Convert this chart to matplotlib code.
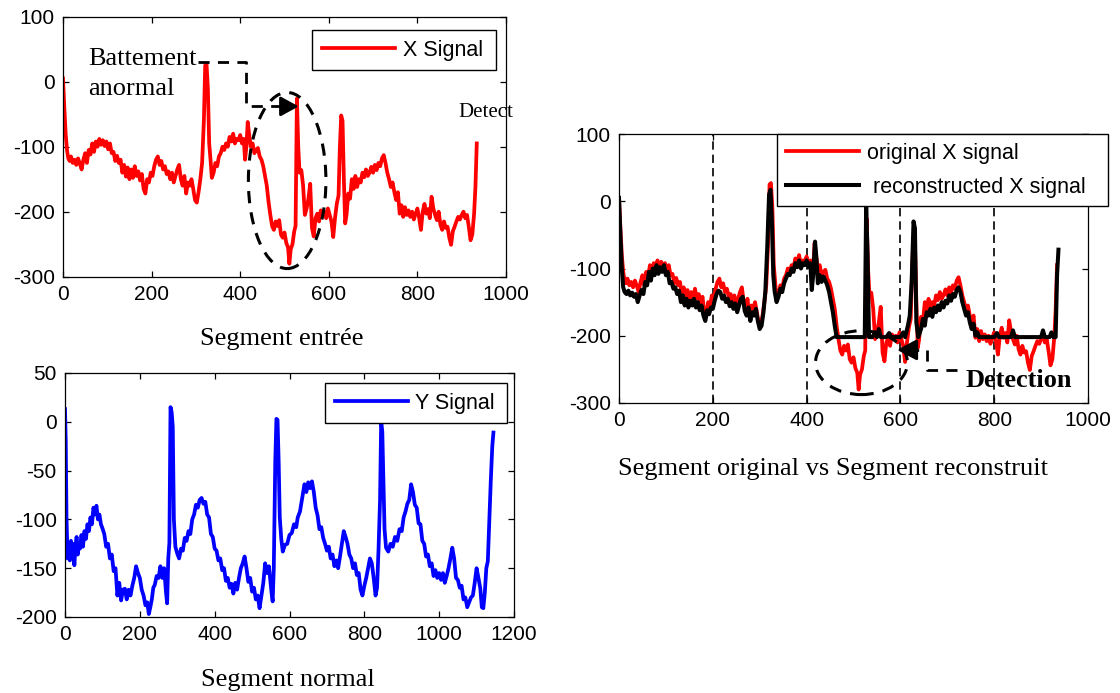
import matplotlib
matplotlib.use("Agg")
import matplotlib.pyplot as plt
from matplotlib.patches import Ellipse

plt.rcParams['axes.unicode_minus'] = False
SANS = ['Liberation Sans', 'DejaVu Sans']
SERIF = ['Liberation Serif', 'DejaVu Serif']
plt.rcParams['font.family'] = SANS

# ---------------- data ----------------
# original X signal (abnormal segment)
x_sig_x = [0, 3, 6, 9, 12, 15, 18, 22, 26, 30, 34, 38, 42, 46, 50, 54, 58, 62, 66, 70,
           74, 78, 82, 86, 90, 94, 98, 102, 106, 110, 114, 118, 122, 126, 130, 134, 138, 142, 146, 150,
           154, 158, 162, 166, 170, 174, 178, 182, 186, 190, 194, 198, 202, 206, 210, 214, 218, 222, 226, 230,
           234, 238, 242, 246, 250, 254, 258, 262, 266, 270, 274, 278, 282, 286, 290, 294, 298, 302, 306, 310,
           314, 318, 321, 324, 327, 330, 333, 336, 340, 344, 348, 352, 356, 360, 364, 368, 372, 376, 380, 384,
           388, 392, 396, 400, 404, 408, 411, 414, 417, 420, 424, 428, 432, 436, 440, 444, 448, 452, 456, 460,
           464, 468, 472, 476, 480, 484, 488, 492, 496, 500, 504, 508, 511, 514, 518, 522, 525, 528, 531, 534,
           538, 542, 546, 550, 554, 558, 562, 566, 570, 574, 578, 582, 586, 590, 594, 598, 602, 606, 610, 614,
           618, 622, 625, 628, 631, 634, 637, 640, 644, 648, 652, 656, 660, 664, 668, 672, 676, 680, 684, 688,
           692, 696, 700, 704, 708, 712, 716, 720, 724, 728, 732, 736, 740, 744, 748, 752, 756, 760, 764, 768,
           772, 776, 780, 784, 788, 792, 796, 800, 804, 808, 812, 816, 820, 824, 828, 832, 836, 840, 844, 848,
           852, 856, 860, 864, 868, 872, 876, 880, 884, 888, 892, 896, 900, 904, 908, 912, 916, 920, 924, 928,
           931, 934]
x_sig_y = [5, -40, -80, -105, -118, -122, -115, -125, -120, -128, -118, -126, -135, -120, -110, -125, -105, -112, -95, -108,
           -92, -100, -88, -97, -90, -99, -92, -104, -95, -110, -108, -122, -114, -125, -120, -140, -128, -146, -132, -150,
           -135, -148, -130, -145, -138, -152, -142, -165, -172, -150, -155, -140, -145, -130, -120, -115, -128, -122, -135, -130,
           -142, -138, -150, -140, -155, -145, -135, -128, -150, -160, -145, -172, -155, -160, -150, -165, -182, -186, -170, -150,
           -125, -60, 25, 27, -10, -95, -120, -148, -140, -125, -130, -115, -110, -100, -105, -95, -100, -85, -92, -80,
           -95, -88, -90, -82, -95, -88, -120, -100, -62, -80, -100, -95, -110, -105, -102, -115, -120, -130, -145, -160,
           -185, -205, -222, -228, -215, -222, -213, -235, -240, -232, -248, -255, -280, -258, -250, -230, -222, -26, -100, -140,
           -136, -160, -205, -195, -180, -157, -225, -238, -210, -203, -215, -198, -205, -200, -210, -195, -205, -215, -239, -210,
           -188, -175, -100, -52, -60, -150, -218, -205, -172, -180, -150, -165, -145, -162, -150, -155, -140, -147, -135, -145,
           -140, -131, -140, -128, -136, -125, -130, -118, -113, -125, -140, -150, -162, -155, -170, -182, -170, -203, -190, -208,
           -193, -205, -198, -208, -200, -212, -203, -195, -210, -228, -200, -188, -203, -196, -210, -177, -195, -205, -213, -200,
           -220, -228, -215, -225, -223, -240, -251, -230, -223, -215, -208, -212, -205, -200, -210, -205, -223, -244, -235, -203,
           -162, -95]

# reconstructed X signal
rec_x = [0, 3, 6, 9, 12, 16, 20, 24, 28, 32, 36, 40, 44, 48, 52, 56, 60, 64, 68, 72,
         76, 80, 84, 88, 92, 96, 100, 104, 108, 112, 116, 120, 124, 128, 132, 136, 140, 144, 148, 152,
         156, 160, 164, 168, 172, 176, 180, 184, 188, 192, 196, 200, 204, 208, 212, 216, 220, 224, 228, 232,
         236, 240, 244, 248, 252, 256, 260, 264, 268, 272, 276, 280, 284, 288, 292, 296, 300, 304, 308, 312,
         316, 320, 323, 326, 329, 332, 336, 340, 344, 348, 352, 356, 360, 364, 368, 372, 376, 380, 384, 388,
         392, 396, 400, 404, 408, 411, 414, 418, 421, 424, 428, 432, 436, 440, 444, 448, 452, 456, 460, 464,
         520, 524, 527, 530, 533, 540, 546, 550, 554, 558, 570, 576, 580, 600, 606, 610, 616, 620, 624, 628,
         631, 634, 638, 644, 648, 652, 656, 660, 664, 668, 672, 676, 680, 684, 688, 692, 696, 700, 704, 708,
         712, 716, 720, 724, 728, 732, 736, 740, 744, 748, 752, 756, 760, 764, 768, 800, 806, 810, 836, 840,
         844, 900, 904, 908, 918, 922, 926, 931, 934, 937]
rec_y = [5, -50, -100, -128, -135, -138, -133, -140, -136, -142, -138, -150, -140, -132, -138, -120, -125, -105, -118, -100,
         -110, -95, -108, -98, -105, -95, -110, -105, -122, -120, -130, -128, -138, -133, -150, -140, -155, -145, -158, -148,
         -155, -145, -158, -150, -162, -155, -170, -178, -162, -168, -158, -160, -148, -138, -133, -135, -145, -140, -150, -145,
         -156, -150, -160, -152, -165, -155, -145, -142, -163, -170, -158, -178, -165, -170, -160, -178, -190, -185, -165, -135,
         -70, 10, 17, -30, -110, -135, -150, -142, -130, -135, -122, -115, -108, -110, -100, -105, -92, -98, -88, -100,
         -92, -95, -88, -98, -92, -132, -110, -60, -85, -122, -110, -120, -112, -118, -125, -135, -150, -165, -185, -202,
         -202, -202, -5, -80, -202, -202, -195, -202, -190, -202, -202, -196, -202, -202, -195, -202, -185, -170, -120, -30,
         -40, -180, -202, -190, -175, -185, -165, -170, -160, -172, -158, -165, -155, -162, -150, -158, -148, -152, -140, -148,
         -138, -142, -132, -128, -135, -150, -160, -170, -165, -180, -190, -182, -200, -195, -202, -202, -196, -202, -202, -192,
         -202, -202, -192, -202, -202, -195, -202, -202, -110, -72]

# Y signal (normal segment)
y_sig_x = [0, 2, 4, 7, 10, 13, 16, 19, 22, 25, 28, 31, 34, 37, 40, 44, 48, 52, 56, 60,
           64, 68, 72, 76, 80, 84, 88, 92, 96, 100, 105, 110, 115, 120, 125, 130, 135, 140, 145, 150,
           155, 160, 165, 170, 175, 180, 185, 190, 195, 200, 205, 210, 215, 220, 224, 228, 232, 236, 240, 245,
           250, 255, 260, 265, 270, 273, 276, 279, 282, 285, 288, 291, 295, 300, 305, 310, 315, 320, 325, 330,
           335, 340, 345, 350, 355, 360, 365, 370, 375, 380, 385, 390, 395, 400, 405, 410, 415, 420, 425, 430,
           435, 440, 445, 450, 455, 460, 465, 470, 475, 480, 485, 490, 495, 500, 505, 510, 515, 520, 525, 530,
           535, 540, 545, 548, 552, 555, 558, 562, 565, 568, 571, 574, 578, 582, 588, 594, 600, 606, 612, 618,
           622, 628, 634, 640, 645, 650, 655, 660, 665, 670, 675, 680, 685, 690, 695, 700, 705, 710, 715, 720,
           725, 730, 735, 740, 745, 750, 755, 760, 765, 770, 775, 780, 785, 790, 795, 800, 805, 810, 815, 820,
           825, 830, 834, 838, 842, 845, 848, 851, 854, 858, 864, 870, 876, 882, 888, 894, 900, 905, 910, 915,
           920, 925, 930, 935, 940, 945, 950, 955, 960, 965, 970, 975, 980, 985, 990, 995, 1000, 1005, 1010, 1015,
           1020, 1025, 1030, 1035, 1040, 1045, 1050, 1055, 1060, 1065, 1070, 1075, 1080, 1085, 1090, 1095, 1100, 1105, 1110, 1114,
           1118, 1122, 1126, 1130, 1134, 1138, 1142, 1145]
y_sig_y = [13, -20, -98, -140, -128, -142, -122, -138, -125, -147, -128, -118, -136, -125, -130, -116, -128, -112, -120, -105,
           -112, -98, -105, -88, -95, -86, -100, -95, -105, -109, -115, -128, -125, -140, -136, -153, -150, -178, -165, -183,
           -172, -171, -182, -172, -178, -168, -160, -148, -155, -160, -172, -178, -188, -185, -197, -190, -182, -170, -167, -158,
           -160, -148, -160, -150, -175, -186, -140, -124, 15, 10, -5, -100, -128, -135, -140, -130, -132, -119, -122, -112,
           -115, -100, -95, -85, -88, -80, -78, -84, -82, -95, -98, -115, -118, -130, -132, -142, -140, -152, -150, -163,
           -160, -170, -166, -176, -165, -172, -160, -150, -145, -138, -150, -164, -160, -174, -170, -182, -178, -191, -178, -165,
           -145, -155, -148, -160, -175, -184, -150, -40, 3, 2, -40, -98, -120, -133, -126, -125, -116, -114, -105, -108,
           -98, -92, -78, -64, -72, -62, -68, -61, -72, -88, -96, -110, -108, -119, -125, -132, -128, -140, -136, -148,
           -142, -150, -138, -125, -112, -118, -125, -136, -140, -150, -145, -157, -155, -172, -178, -168, -160, -150, -140, -145,
           -160, -178, -170, -130, -80, 1, -10, -60, -110, -129, -133, -125, -128, -118, -122, -110, -112, -98, -92, -84,
           -80, -64, -72, -85, -88, -104, -105, -122, -125, -138, -136, -148, -145, -158, -152, -160, -155, -162, -155, -165,
           -158, -150, -140, -129, -140, -160, -162, -170, -168, -182, -180, -190, -185, -180, -178, -165, -150, -160, -171, -190,
           -191, -175, -150, -143, -100, -60, -25, -11]

seg_ticks = [0, 200, 400, 600, 800, 1000]
y_ticks_x = [-300, -200, -100, 0, 100]
y_ticks_y = [-200, -150, -100, -50, 0, 50]
x_ticks_y = [0, 200, 400, 600, 800, 1000, 1200]
window_marks = [200, 400, 600, 800]

# ---------------- figure ----------------
W, H = 1120, 693
fig = plt.figure(figsize=(W / 100, H / 100), dpi=100)


def rect(l, t, r, b):
    return [l / W, 1 - b / H, (r - l) / W, (b - t) / H]


def style(ax):
    ax.tick_params(direction='in', top=True, right=True, length=4, width=0.9,
                   labelsize=15, pad=6)
    for s in ax.spines.values():
        s.set_linewidth(0.9)
    for lab in ax.get_xticklabels() + ax.get_yticklabels():
        lab.set_fontfamily(SANS)


LEGFS = 15.5
LW = 2.7

# Panel 1
ax1 = fig.add_axes(rect(63, 16.7, 506, 276.7))
ax1.plot(x_sig_x, x_sig_y, color='#ff0000', lw=LW, label='X Signal')
ax1.set_xlim(0, 1000)
ax1.set_ylim(-300, 100)
ax1.set_xticks(seg_ticks)
ax1.set_yticks(y_ticks_x)
style(ax1)
leg1 = ax1.legend(loc='upper left', bbox_to_anchor=(0.563, 0.789, 0.414, 0.16), mode='expand',
                  prop={'family': SANS, 'size': LEGFS}, fancybox=False, framealpha=1,
                  edgecolor='black', borderpad=0.45, handlelength=3.4, handletextpad=0.35,
                  borderaxespad=0)
leg1.get_frame().set_linewidth(1.0)
ax1.text(57, 25, 'Battement', family=SERIF, fontsize=19, va='baseline')
ax1.text(57, -21, 'anormal', family=SERIF, fontsize=19, va='baseline')
ax1.plot([304, 414, 414, 500], [31, 31, -38, -38], color='black', lw=2, ls=(0, (4, 3)),
         dash_capstyle='butt', zorder=4)
ax1.annotate('', xy=(532, -38), xytext=(498, -38),
             arrowprops=dict(arrowstyle='-|>,head_length=0.55,head_width=0.3', color='black',
                             lw=2, shrinkA=0, shrinkB=0, mutation_scale=20), zorder=4)
ax1.add_patch(Ellipse((506, -152), 175, 271, fill=False, ec='black', lw=2.2,
                      ls=(0, (4, 3)), zorder=4))
ax1.text(893, -54.5, 'Detect', family=SERIF, fontsize=15, va='baseline', clip_on=False)

# Panel 2
ax2 = fig.add_axes(rect(65, 373, 514, 617))
ax2.plot(y_sig_x, y_sig_y, color='#0000ff', lw=LW, label='Y Signal')
ax2.set_xlim(0, 1200)
ax2.set_ylim(-200, 50)
ax2.set_xticks(x_ticks_y)
ax2.set_yticks(y_ticks_y)
style(ax2)
leg2 = ax2.legend(loc='upper left', bbox_to_anchor=(0.579, 0.795, 0.405, 0.164), mode='expand',
                  prop={'family': SANS, 'size': LEGFS}, fancybox=False, framealpha=1,
                  edgecolor='black', borderpad=0.45, handlelength=3.4, handletextpad=0.35,
                  borderaxespad=0)
leg2.get_frame().set_linewidth(1.0)

# Panel 3
ax3 = fig.add_axes(rect(619, 134, 1088, 403))
for xm in window_marks:
    ax3.axvline(xm, color='black', lw=1.2, ls=(0, (5, 3)), zorder=1)
ax3.plot(x_sig_x, x_sig_y, color='#ff0000', lw=LW, label='original X signal', zorder=2)
ax3.plot(rec_x, rec_y, color='black', lw=2.9, label=' reconstructed X signal', zorder=3)
ax3.set_xlim(0, 1000)
ax3.set_ylim(-300, 100)
ax3.set_xticks(seg_ticks)
ax3.set_yticks(y_ticks_x)
style(ax3)
leg3 = ax3.legend(loc='upper left', bbox_to_anchor=(0.337, 0.72, 0.706, 0.28), mode='expand',
                  prop={'family': SANS, 'size': LEGFS}, fancybox=False, framealpha=1,
                  edgecolor='black', borderpad=0.4, labelspacing=0.6, handlelength=3.4,
                  handletextpad=0.4, borderaxespad=0)
leg3.get_frame().set_linewidth(1.0)
leg3.set_zorder(6)
ax3.add_patch(Ellipse((517, -240), 196, 95, fill=False, ec='black', lw=2.2,
                      ls=(0, (4, 3)), zorder=4))
ax3.plot([721, 656, 656, 635], [-251, -251, -221, -221], color='black', lw=2,
         ls=(0, (4, 3)), zorder=4)
ax3.annotate('', xy=(593, -221), xytext=(633, -221),
             arrowprops=dict(arrowstyle='-|>,head_length=0.6,head_width=0.32', color='black',
                             lw=2, shrinkA=0, shrinkB=0, mutation_scale=20), zorder=4)
ax3.text(738, -276, 'Detection', family=SERIF, fontsize=19, fontweight='bold', va='baseline')

# captions
fig.text(281.7 / W, 1 - 345 / H, 'Segment entrée', family=SERIF, fontsize=19,
         ha='center', va='baseline')
fig.text(288 / W, 1 - 686 / H, 'Segment normal', family=SERIF, fontsize=19,
         ha='center', va='baseline')
fig.text(833 / W, 1 - 475 / H, 'Segment original vs Segment reconstruit', family=SERIF,
         fontsize=19, ha='center', va='baseline')

fig.savefig('out.png', dpi=100)
